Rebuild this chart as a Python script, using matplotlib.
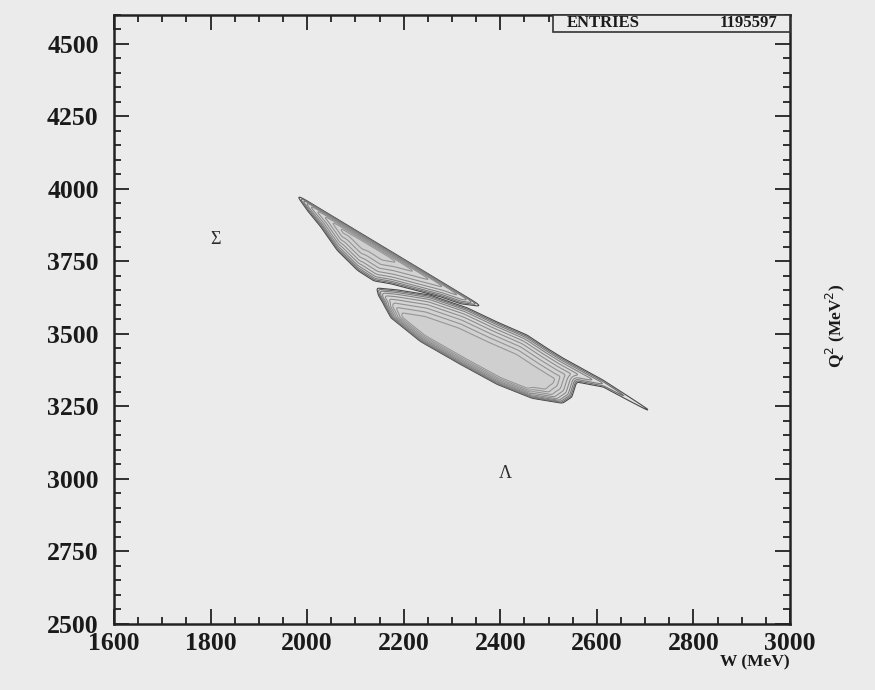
import numpy as np
import matplotlib
matplotlib.use("Agg")
import matplotlib.pyplot as plt
from matplotlib.path import Path
from matplotlib.ticker import MultipleLocator

# ---- data -------------------------------------------------------------
x_ticks = [1600, 1800, 2000, 2200, 2400, 2600, 2800, 3000]
y_ticks = [2500, 2750, 3000, 3250, 3500, 3750, 4000, 4250, 4500]
entries = 1195597

# Sigma band: outline (W, Q^2) and edge sharpness for each outline edge
sigma_W = [1976, 2365, 2318, 2276, 2173, 2138, 2105, 2063, 2028, 2001]
sigma_Q = [3982, 3592, 3602, 3626, 3671, 3681, 3716, 3785, 3868, 3923]
sigma_edge = [4.0, 1.0, 1.0, 1.0, 1.0, 1.0, 1.2, 1.5, 1.5, 1.5]

# Lambda band: outline (W, Q^2) and edge sharpness
lambda_W = [2142, 2187, 2255, 2332, 2394, 2456, 2497, 2530, 2613, 2710, 2710,
            2613, 2559, 2549, 2530, 2468, 2394, 2318, 2235, 2173, 2158, 2146]
lambda_Q = [3661, 3654, 3636, 3592, 3543, 3498, 3453, 3419, 3343, 3239, 3229,
            3315, 3332, 3281, 3260, 3277, 3326, 3395, 3474, 3557, 3602, 3636]
lambda_edge = [1.0, 1.0, 1.0, 1.0, 1.0, 1.0, 1.0, 1.0, 1.0, 1.0, 1.0,
               1.0, 1.0, 1.0, 2.0, 3.0, 3.0, 3.0, 3.0, 2.0, 1.5, 1.0]

# contour levels (distance inside the band, in display pixels)
levels = [0.6, 1.8, 3.2, 5.0, 7.5, 10.5, 14.0, 18.0, 22.5]

sigma_label = (1811, 3826)
lambda_label = (2410, 3018)

# ---- figure -----------------------------------------------------------
bg = "#ebebeb"
serif = ["Liberation Serif", "DejaVu Serif"]
fig = plt.figure(figsize=(8.75, 6.9), dpi=100, facecolor=bg)
ax = fig.add_axes([0.1303, 0.0957, 0.7726, 0.8826], facecolor=bg)
ax.set_xlim(1600, 3000)
ax.set_ylim(2500, 4600)


def smooth(F, k=5):
    """Separable moving average to round off the polygon corners."""
    ker = np.ones(k) / k
    pad = k // 2
    G = np.pad(F, pad, mode="edge")
    G = np.apply_along_axis(lambda r: np.convolve(r, ker, mode="valid"), 1, G)
    G = np.apply_along_axis(lambda c: np.convolve(c, ker, mode="valid"), 0, G)
    return G


def band_field(Wv, Qv, sharp, gx, gy):
    """Signed, edge-weighted distance (display px) to a closed outline."""
    verts_d = ax.transData.transform(np.column_stack([Wv, Qv]))
    pts = ax.transData.transform(np.column_stack([gx.ravel(), gy.ravel()]))
    n = len(verts_d)
    dmin = np.full(len(pts), np.inf)
    draw = np.full(len(pts), np.inf)
    for i in range(n):
        a = verts_d[i]
        b = verts_d[(i + 1) % n]
        ab = b - a
        t = np.clip(((pts - a) @ ab) / max(ab @ ab, 1e-9), 0, 1)
        d = np.hypot(*(pts - (a + t[:, None] * ab)).T)
        dmin = np.minimum(dmin, d * sharp[i])
        draw = np.minimum(draw, d)
    inside = Path(verts_d).contains_points(pts)
    f = np.where(inside, dmin, -draw)
    return smooth(f.reshape(gx.shape))


gW, gQ = np.meshgrid(np.linspace(1900, 2800, 520), np.linspace(3150, 4060, 520))
shade = ["#e3e3e3", "#dfdfdf", "#dcdcdc", "#d9d9d9", "#d7d7d7",
         "#d5d5d5", "#d3d3d3", "#d1d1d1", "#cfcfcf"]
line_cols = ["#4a4a4a", "#6e6e6e", "#7c7c7c", "#848484", "#8a8a8a",
             "#8e8e8e", "#929292", "#949494", "#979797"]

for Wv, Qv, sharp in [(lambda_W, lambda_Q, lambda_edge),
                      (sigma_W, sigma_Q, sigma_edge)]:
    F = band_field(Wv, Qv, sharp, gW, gQ)
    ax.contourf(gW, gQ, F, levels=levels + [1e6], colors=shade, zorder=1)
    ax.contour(gW, gQ, F, levels=levels, colors=line_cols,
               linewidths=0.8, zorder=2)

ax.text(*sigma_label, "Σ", fontsize=13, family=serif,
        ha="center", va="center", color="#2a2a2a")
ax.text(*lambda_label, "Λ", fontsize=13, family=serif,
        ha="center", va="center", color="#2a2a2a")

# ---- axes styling -----------------------------------------------------
ax.set_xticks(x_ticks)
ax.set_yticks(y_ticks)
ax.xaxis.set_minor_locator(MultipleLocator(50))
ax.yaxis.set_minor_locator(MultipleLocator(50))
ax.tick_params(which="both", direction="in", top=True, right=True,
               width=1.3, color="#222222")
ax.tick_params(which="major", length=11)
ax.tick_params(which="minor", length=5)
ax.tick_params(axis="y", which="major", pad=11)
ax.tick_params(axis="x", which="major", pad=6)
for lab in ax.get_xticklabels() + ax.get_yticklabels():
    lab.set_family(serif)
    lab.set_fontweight("bold")
    lab.set_fontsize(18.5)
    lab.set_color("#1a1a1a")
for sp in ax.spines.values():
    sp.set_linewidth(1.8)
    sp.set_color("#222222")

fig.text(0.9029, 0.040, "W (MeV)", family=serif, fontweight="bold",
         fontsize=12.5, ha="right", va="center", color="#1a1a1a")
fig.text(0.955, 0.528, "Q$^{2}$ (MeV$^{2}$)", family=serif, fontweight="bold",
         fontsize=12.5, ha="center", va="center", rotation=90, color="#1a1a1a")

# statistics box in the top-right corner
box = plt.Rectangle((0.632, 0.9536), 0.2709, 0.0247, transform=fig.transFigure,
                    facecolor=bg, edgecolor="#333333", linewidth=1.2, zorder=5)
fig.add_artist(box)
fig.text(0.689, 0.9667, "ENTRIES", family=serif, fontweight="bold",
         fontsize=12, ha="center", va="center", color="#1a1a1a", zorder=6)
fig.text(0.888, 0.9667, f"{entries}", family=serif, fontweight="bold",
         fontsize=12, ha="right", va="center", color="#1a1a1a", zorder=6)

fig.savefig("out.png", dpi=100, facecolor=bg)
